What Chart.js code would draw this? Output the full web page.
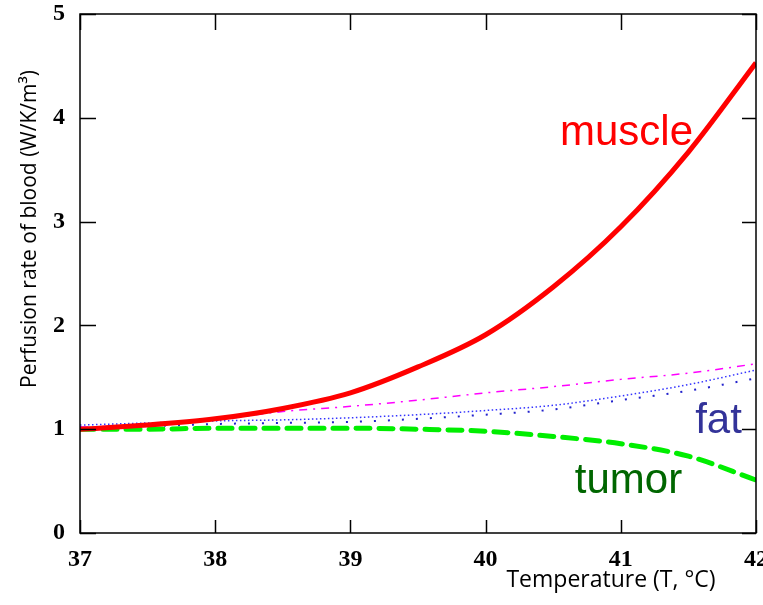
<!DOCTYPE html>
<html lang="en">
<head>
  <meta charset="UTF-8">
  <title>Perfusion rate of blood vs temperature</title>
  <script src="https://cdn.jsdelivr.net/npm/chart.js"></script>
  <style>
    body {
      margin: 0;
      background: #fff;
    }

    .wrap {
      width: 763px;
      height: 605px;
      position: relative;
    }
  </style>
</head>
<body>
  <div class="wrap">
    <canvas id="perfusionChart"></canvas>
  </div>

  <script>
    // temperature samples (°C)
    const temps = [37, 37.5, 38, 38.5, 39, 39.5, 40, 40.5, 41, 41.5, 42];

    // perfusion rate values
    const muscle  = [1.00, 1.04, 1.10, 1.20, 1.35, 1.60, 1.91, 2.37, 2.95, 3.67, 4.53];
    const muscle2 = [1.02, 1.04, 1.09, 1.17, 1.22, 1.28, 1.35, 1.41, 1.48, 1.54, 1.63];
    const fat     = [1.04, 1.06, 1.08, 1.09, 1.11, 1.14, 1.18, 1.23, 1.32, 1.43, 1.57];
    const fat2    = [1.02, 1.03, 1.05, 1.06, 1.07, 1.10, 1.14, 1.19, 1.28, 1.37, 1.49];
    const tumor   = [1.00, 1.00, 1.01, 1.01, 1.01, 1.00, 0.98, 0.93, 0.86, 0.74, 0.51];

    const xTicks = [37, 38, 39, 40, 41, 42];
    const yTicks = [0, 1, 2, 3, 4, 5];

    // curve labels: [text, T, value, colour]
    const curveLabels = [
      ['muscle', 40.55, 3.74, '#ff0000'],
      ['fat', 41.55, 0.96, '#333399'],
      ['tumor', 40.66, 0.39, '#006600']
    ];

    function pts(arr) {
      return temps.map((t, i) => ({ x: t, y: arr[i] }));
    }

    // box, inward ticks, curve labels and axis titles
    const framePlugin = {
      id: 'frame',
      afterDraw(chart) {
        const ctx = chart.ctx;
        const a = chart.chartArea;
        const xs = chart.scales.x;
        const ys = chart.scales.y;
        ctx.save();
        ctx.strokeStyle = '#000';
        ctx.lineWidth = 1.5;
        ctx.strokeRect(a.left, a.top, a.right - a.left, a.bottom - a.top);
        ctx.beginPath();
        xTicks.forEach(v => {
          const px = Math.round(xs.getPixelForValue(v)) + 0.5;
          ctx.moveTo(px, a.bottom);
          ctx.lineTo(px, a.bottom - 13);
          ctx.moveTo(px, a.top);
          ctx.lineTo(px, a.top + 16);
        });
        yTicks.forEach(v => {
          const py = Math.round(ys.getPixelForValue(v)) + 0.5;
          ctx.moveTo(a.left, py);
          ctx.lineTo(a.left + 16, py);
          ctx.moveTo(a.right, py);
          ctx.lineTo(a.right - 14, py);
        });
        ctx.stroke();

        ctx.font = '42px "Liberation Sans", Arial, sans-serif';
        ctx.textBaseline = 'alphabetic';
        ctx.textAlign = 'left';
        curveLabels.forEach(([txt, t, v, col]) => {
          ctx.fillStyle = col;
          ctx.fillText(txt, xs.getPixelForValue(t), ys.getPixelForValue(v));
        });

        ctx.fillStyle = '#000';
        ctx.font = '23px "Open Sans", sans-serif';
        ctx.textAlign = 'center';
        ctx.textBaseline = 'middle';
        ctx.fillText('Temperature (T, °C)', 611, 580);

        // y title sits above the middle in the original
        ctx.font = '21px "Open Sans", sans-serif';
        ctx.translate(30, 229);
        ctx.rotate(-Math.PI / 2);
        ctx.fillText('Perfusion rate of blood (W/K/m³)', 0, 0);
        ctx.restore();
      }
    };

    const ctx = document.getElementById('perfusionChart').getContext('2d');
    new Chart(ctx, {
      type: 'line',
      data: {
        datasets: [
          {
            label: 'muscle',
            data: pts(muscle),
            borderColor: '#ff0000',
            borderWidth: 5,
            pointRadius: 0,
            cubicInterpolationMode: 'monotone'
          },
          {
            label: 'muscle (2)',
            data: pts(muscle2),
            borderColor: '#ff00ff',
            borderWidth: 1.5,
            borderDash: [8, 6, 2, 6],
            pointRadius: 0,
            cubicInterpolationMode: 'monotone'
          },
          {
            label: 'fat',
            data: pts(fat),
            borderColor: '#3333ff',
            borderWidth: 1.5,
            borderDash: [1.5, 2.5],
            pointRadius: 0,
            cubicInterpolationMode: 'monotone'
          },
          {
            label: 'fat (2)',
            data: pts(fat2),
            borderColor: '#2222cc',
            borderWidth: 2,
            borderDash: [2, 12],
            pointRadius: 0,
            cubicInterpolationMode: 'monotone'
          },
          {
            label: 'tumor',
            data: pts(tumor),
            borderColor: '#00ee00',
            borderWidth: 5,
            borderDash: [14, 9],
            borderCapStyle: 'round',
            pointRadius: 0,
            cubicInterpolationMode: 'monotone'
          }
        ]
      },
      options: {
        responsive: true,
        maintainAspectRatio: false,
        animation: false,
        layout: {
          padding: { top: 14, right: 7, left: 0, bottom: 0 }
        },
        plugins: {
          legend: { display: false },
          tooltip: { enabled: false }
        },
        scales: {
          x: {
            type: 'linear',
            min: 37,
            max: 42,
            afterFit(scale) {
              scale.height = 72;
              // let the last label run off the edge like the original
              scale.paddingLeft = 0;
              scale.paddingRight = 0;
            },
            afterBuildTicks(scale) { scale.ticks = xTicks.map(v => ({ value: v })); },
            grid: { display: false },
            border: { display: false },
            ticks: {
              padding: 4,
              color: '#000',
              font: { family: '"Liberation Serif", serif', size: 24, weight: 'bold' }
            }
          },
          y: {
            min: 0,
            max: 5,
            afterFit(scale) {
              scale.width = 80;
              scale.paddingTop = 0;
              scale.paddingBottom = 0;
            },
            afterBuildTicks(scale) { scale.ticks = yTicks.map(v => ({ value: v })); },
            grid: { display: false },
            border: { display: false },
            ticks: {
              padding: 7,
              color: '#000',
              font: { family: '"Liberation Serif", serif', size: 24, weight: 'bold' }
            }
          }
        }
      },
      plugins: [framePlugin]
    });
  </script>
</body>
</html>
